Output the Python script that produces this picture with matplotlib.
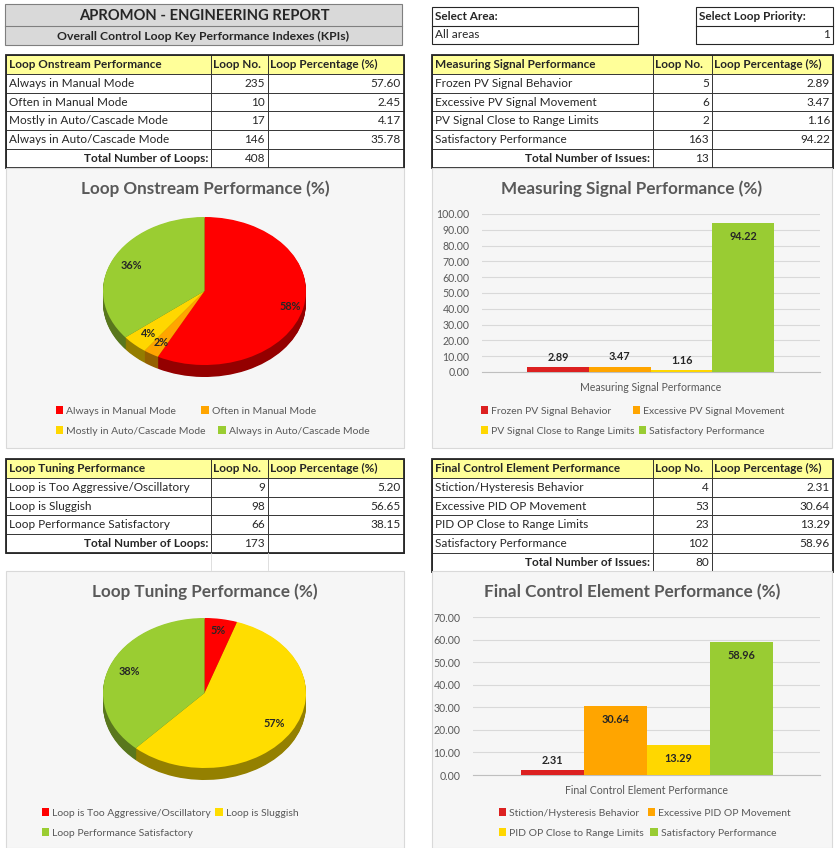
import numpy as np
import matplotlib.pyplot as plt
from matplotlib.patches import Rectangle
from matplotlib.colors import to_rgb
from matplotlib.ticker import FormatStrFormatter

plt.rcParams['font.family'] = ['Lato', 'DejaVu Sans']

W, H = 837, 848

# ---- data ----
report_title = 'APROMON - ENGINEERING REPORT'
report_sub = 'Overall Control Loop Key Performance Indexes (KPIs)'
area_label, area_value = 'Select Area:', 'All areas'
prio_label, prio_value = 'Select Loop Priority:', '1'
col_hdr = ['Loop No.', 'Loop Percentage (%)']

onstream_names = ['Always in Manual Mode', 'Often in Manual Mode',
                  'Mostly in Auto/Cascade Mode', 'Always in Auto/Cascade Mode']
onstream_loops = [235, 10, 17, 146]
onstream_pct = [57.60, 2.45, 4.17, 35.78]
onstream_total = 408

signal_names = ['Frozen PV Signal Behavior', 'Excessive PV Signal Movement',
                'PV Signal Close to Range Limits', 'Satisfactory Performance']
signal_loops = [5, 6, 2, 163]
signal_pct = [2.89, 3.47, 1.16, 94.22]
signal_total = 13

tuning_names = ['Loop is Too Aggressive/Oscillatory', 'Loop is Sluggish',
                'Loop Performance Satisfactory']
tuning_loops = [9, 98, 66]
tuning_pct = [5.20, 56.65, 38.15]
tuning_total = 173

fce_names = ['Stiction/Hysteresis Behavior', 'Excessive PID OP Movement',
             'PID OP Close to Range Limits', 'Satisfactory Performance']
fce_loops = [4, 53, 23, 102]
fce_pct = [2.31, 30.64, 13.29, 58.96]
fce_total = 80

pie1_colors = ['#ff0000', '#ffa500', '#ffd700', '#9acd32']
pie2_colors = ['#ff0000', '#ffdd00', '#9acd32']
bar_colors = ['#dc2020', '#ffa500', '#ffd700', '#99cc33']

GRAY = '#595959'

fig = plt.figure(figsize=(W / 100, H / 100), dpi=100)
bg = fig.add_axes([0, 0, 1, 1])
bg.set_xlim(0, W)
bg.set_ylim(H, 0)
bg.axis('off')


def px_axes(x0, y0, x1, y1):
    return fig.add_axes([x0 / W, 1 - y1 / H, (x1 - x0) / W, (y1 - y0) / H])


# ---- header boxes ----
bg.add_patch(Rectangle((5, 4), 397, 41, fc='#d9d9d9', ec='#7f7f7f', lw=0.8))
bg.plot([5, 402], [26, 26], color='#7f7f7f', lw=0.8)
bg.text(204, 15.5, report_title, ha='center', va='center', fontsize=10.6, weight='bold', color='#262626')
bg.text(203, 36, report_sub, ha='center', va='center', fontsize=8.8, weight='bold', color='#262626')

for (x0, x1), lab, val, ha in [((432, 638), area_label, area_value, 'left'),
                               ((696, 833), prio_label, prio_value, 'right')]:
    bg.add_patch(Rectangle((x0, 7), x1 - x0, 37, fc='white', ec='#262626', lw=0.8))
    bg.plot([x0, x1], [26, 26], color='#262626', lw=0.8)
    bg.text(x0 + 3, 16.5, lab, ha='left', va='center', fontsize=8.5, weight='bold', color='#262626')
    tx = x0 + 3 if ha == 'left' else x1 - 3
    bg.text(tx, 35, val, ha=ha, va='center', fontsize=8.5, color='#262626')


# ---- tables ----
def draw_table(cols, y0, rh, title, names, loops, pct, total_label, total):
    rows = len(names) + 2
    for r in range(rows):
        y = y0 + r * rh
        for c in range(3):
            fc = '#ffff99' if r == 0 else 'white'
            bg.add_patch(Rectangle((cols[c], y), cols[c + 1] - cols[c], rh,
                                   fc=fc, ec='#262626', lw=0.6))
    bg.add_patch(Rectangle((cols[0], y0), cols[3] - cols[0], rows * rh,
                           fc='none', ec='#262626', lw=1.3))
    yc = y0 + rh / 2
    kw = dict(va='center', fontsize=8.5, color='#262626')
    bg.text(cols[0] + 3, yc, title, ha='left', weight='bold', **kw)
    bg.text(cols[1] + 2, yc, col_hdr[0], ha='left', weight='bold', **kw)
    bg.text(cols[2] + 2, yc, col_hdr[1], ha='left', weight='bold', **kw)
    for i, (n, l, p) in enumerate(zip(names, loops, pct)):
        yc = y0 + (i + 1.5) * rh
        bg.text(cols[0] + 3, yc, n, ha='left', **kw)
        bg.text(cols[2] - 3, yc, f'{l}', ha='right', **kw)
        bg.text(cols[3] - 3, yc, f'{p:.2f}', ha='right', **kw)
    yc = y0 + (rows - 0.5) * rh
    bg.text(cols[1] - 3, yc, total_label, ha='right', weight='bold', **kw)
    bg.text(cols[2] - 3, yc, f'{total}', ha='right', **kw)


left_cols = [6, 211, 268, 404]
right_cols = [432, 653, 712, 833]
draw_table(left_cols, 55, 18.8, 'Loop Onstream Performance', onstream_names,
           onstream_loops, onstream_pct, 'Total Number of Loops:', onstream_total)
draw_table(right_cols, 55, 18.8, 'Measuring Signal Performance', signal_names,
           signal_loops, signal_pct, 'Total Number of Issues:', signal_total)
draw_table(left_cols, 459, 18.8, 'Loop Tuning Performance', tuning_names,
           tuning_loops, tuning_pct, 'Total Number of Loops:', tuning_total)
draw_table(right_cols, 459, 18.8, 'Final Control Element Performance', fce_names,
           fce_loops, fce_pct, 'Total Number of Issues:', fce_total)

# faint sheet gridlines under the short table
for x in left_cols[1:3]:
    bg.plot([x, x], [553, 570], color='#d9d9d9', lw=0.6)


# ---- chart panels ----
def panel(x0, y0, x1, y1, title, ty):
    bg.add_patch(Rectangle((x0, y0), x1 - x0, y1 - y0, fc='#f6f6f6', ec='#d9d9d9', lw=0.8))
    bg.text((x0 + x1) / 2, ty, title, ha='center', va='center', fontsize=12.3,
            weight='bold', color=GRAY)


panel(6, 168, 404, 448, 'Loop Onstream Performance (%)', 189)
panel(432, 168, 832, 448, 'Measuring Signal Performance (%)', 189)
panel(6, 571, 404, 848, 'Loop Tuning Performance (%)', 592)
panel(432, 571, 832, 848, 'Final Control Element Performance (%)', 592)


def row_legends(ax, handles, labels, rows, x, ys, spacing):
    for k, (idx, y, sp) in enumerate(zip(rows, ys, spacing)):
        leg = ax.legend([handles[i] for i in idx], [labels[i] for i in idx],
                        ncol=len(idx), loc='center left',
                        bbox_to_anchor=(x / W, 1 - y / H), bbox_transform=fig.transFigure,
                        frameon=False, handlelength=0.7, handleheight=0.7,
                        handletextpad=0.3, columnspacing=sp, fontsize=7.5,
                        labelcolor=GRAY, borderpad=0, borderaxespad=0)
        if k < len(rows) - 1:
            ax.add_artist(leg)


def draw_pie(cx, cy, rx, ry, depth, vals, colors, dist):
    ax = px_axes(cx - rx * 1.1, cy - ry * 1.15, cx + rx * 1.1, cy + ry * 1.15 + depth)
    n = 16
    dark = [tuple(c * 0.58 for c in to_rgb(col)) for col in colors]
    for k in range(n, 0, -1):
        ax.pie(vals, colors=dark, startangle=90, counterclock=False,
               center=(0, -depth / ry * k / n), wedgeprops=dict(linewidth=0))
    wedges, _ = ax.pie(vals, colors=colors, startangle=90, counterclock=False,
                       wedgeprops=dict(linewidth=0))
    ax.set_aspect('auto')
    ax.set_xlim(-1.1, 1.1)
    ax.set_ylim(-1.15 - depth / ry, 1.15)
    tot = sum(vals)
    cum = 0
    for v, d in zip(vals, dist):
        th = np.deg2rad(90 - (cum + v / 2) / tot * 360)
        ax.text(d * np.cos(th), d * np.sin(th), f'{v:.0f}%', ha='center', va='center',
                fontsize=7.8, weight='bold', color='#262626')
        cum += v
    return ax, wedges


ax1, w1 = draw_pie(204.5, 291, 101.5, 74, 12, onstream_pct, pie1_colors, [0.87, 0.82, 0.8, 0.8])
row_legends(ax1, w1, onstream_names, [[0, 1], [2, 3]], 56, [411, 431], [2.4, 1.2])

ax3, w3 = draw_pie(204.5, 693, 101.5, 75, 12, tuning_pct, pie2_colors, [0.84, 0.8, 0.8])
row_legends(ax3, w3, tuning_names, [[0, 1], [2]], 42, [813, 833], [0.4, 0.4])


def draw_bars(box, xlim, ymax, vals, colors, cat, names, lx, lys, spacing):
    ax = px_axes(*box)
    ax.patch.set_alpha(0)
    x = np.arange(len(vals))
    bars = ax.bar(x, vals, width=1.0, color=colors, zorder=3)
    ax.set_xlim(*xlim)
    ax.set_ylim(0, ymax)
    ax.set_yticks(np.arange(0, ymax + 1, 10))
    ax.yaxis.set_major_formatter(FormatStrFormatter('%.2f'))
    ax.grid(axis='y', color='#d9d9d9', lw=0.8)
    ax.set_axisbelow(True)
    for s in ['top', 'right', 'left']:
        ax.spines[s].set_visible(False)
    ax.spines['bottom'].set_color('#bfbfbf')
    ax.set_xticks([x.mean()])
    ax.set_xticklabels([cat])
    ax.tick_params(length=0, labelsize=7.6, colors=GRAY, pad=9)
    ax.tick_params(axis='x', pad=7)
    for b, v in zip(bars, vals):
        inside = v > 0.1 * ymax
        ax.annotate(f'{v:.2f}', (b.get_x() + b.get_width() / 2, v),
                    xytext=(0, -6 if inside else 3), textcoords='offset points',
                    ha='center', va='top' if inside else 'bottom',
                    fontsize=7.8, weight='bold', color='#262626')
    row_legends(ax, bars, names, [[0, 1], [2, 3]], lx, lys, spacing)
    return ax


draw_bars((482, 214, 820, 372), (-1.23, 4.24), 100, signal_pct, bar_colors,
          'Measuring Signal Performance', signal_names, 481, [411, 431], [2.0, 0.4])
draw_bars((473, 617, 820, 775), (-1.26, 4.25), 70, fce_pct, bar_colors,
          'Final Control Element Performance', fce_names, 499, [813, 833], [0.8, 0.6])

fig.savefig('out.png', dpi=100)
